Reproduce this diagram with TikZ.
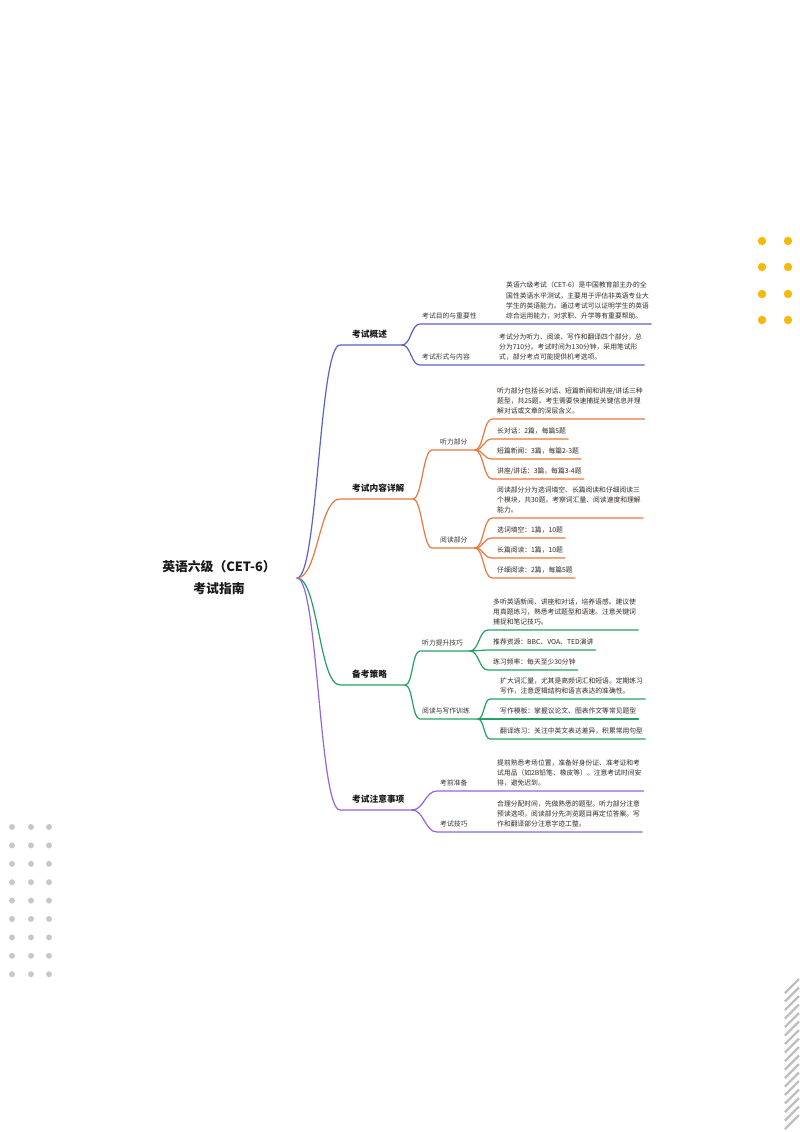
\documentclass[tikz,border=0pt]{standalone}
\usepackage{fontspec}
\setmainfont{Noto Sans CJK SC}
\definecolor{cblue}{RGB}{92,96,200}
\definecolor{corange}{RGB}{232,121,61}
\definecolor{cgreen}{RGB}{38,160,100}
\definecolor{cpurple}{RGB}{150,100,220}
\definecolor{cyellow}{RGB}{245,185,10}
\definecolor{cdot}{RGB}{200,200,200}
\definecolor{chatch}{RGB}{190,190,190}
\definecolor{txtdark}{RGB}{25,25,25}
\definecolor{txtmid}{RGB}{55,55,55}
\definecolor{txtdet}{RGB}{52,44,38}
\tikzset{
  cb/.style={draw=cblue, line width=1.2pt, line cap=round},
  co/.style={draw=corange, line width=1.2pt, line cap=round},
  cg/.style={draw=cgreen, line width=1.2pt, line cap=round},
  cp/.style={draw=cpurple, line width=1.2pt, line cap=round},
  rootlbl/.style={font=\fontsize{12.8}{22}\selectfont\bfseries, text=txtdark, align=center, inner sep=0pt},
  lone/.style={font=\fontsize{8.7}{10}\selectfont\bfseries, text=txtdark, inner sep=0pt, anchor=base west},
  ltwo/.style={font=\fontsize{6.8}{9.8}\selectfont, text=txtmid, inner sep=0pt, anchor=base west},
  dtl/.style={font=\fontsize{6.8}{10.2}\selectfont, text=txtdet, align=left, inner xsep=2pt, inner ysep=0pt, anchor=south west},
  ydot/.style={fill=cyellow, draw=none},
  gdot/.style={fill=cdot, draw=none},
  hatchline/.style={draw=chatch, line width=2.2pt},
}
\begin{document}
\begin{tikzpicture}[x=1pt,y=-1pt]
\path[fill=white] (0,0) rectangle (800,1132);
\useasboundingbox (0,0) rectangle (800,1132);

% decorations
\foreach \yy in {241,267,294,320}{
  \foreach \xx in {762,788}{ \fill[ydot] (\xx,\yy) circle (4.2); }
}
\foreach \k in {0,...,8}{
  \foreach \xx in {12,31,49}{ \fill[gdot] (\xx,827+18.4*\k) circle (3); }
}
\begin{scope}
\clip (770,970) rectangle (800,1132);
\foreach \k in {0,...,16}{
  \draw[hatchline] (785,993+8.5*\k) -- (799,979+8.5*\k);
}
\end{scope}

% root
\node[rootlbl] (root) at (219,578) {英语六级（CET-6）\\考试指南};
\coordinate (rp) at (297,578);

% ===== blue: 考试概述
\coordinate (b0) at (340,345); \coordinate (b1) at (402,345);
\node[lone] (bt) at (352,337.5) {考试概述};
\coordinate (b2) at (420,324); \coordinate (b3) at (420,365);
\node[ltwo] (bl1) at (422,318.5) {考试目的与重要性};
\node[dtl] (bd1) at (504,319.5) {英语六级考试（CET-6）是中国教育部主办的全\\国性英语水平测试，主要用于评估非英语专业大\\学生的英语能力。通过考试可以证明学生的英语\\综合运用能力，对求职、升学等有重要帮助。};
\node[ltwo] (bl2) at (422,359.5) {考试形式与内容};
\node[dtl] (bd2) at (497,360.5) {考试分为听力、阅读、写作和翻译四个部分，总\\分为710分。考试时间为130分钟，采用笔试形\\式，部分考点可能提供机考选项。};
\draw[cb] (rp) .. controls +(21,0) and +(-21,0) .. (b0) -- (b1);
\draw[cb] (b1) .. controls +(9,0) and +(-9,0) .. (b2) -- (b2 -| bd1.east);
\draw[cb] (b1) .. controls +(9,0) and +(-9,0) .. (b3) -- (b3 -| bd2.east);

% ===== orange: 考试内容详解
\coordinate (o0) at (340,499); \coordinate (o1) at (413,499);
\node[lone] (ot) at (352,491.5) {考试内容详解};
\coordinate (o2) at (432,450); \coordinate (o3) at (475,450);
\node[ltwo] (ol) at (440,444.5) {听力部分};
\coordinate (o4) at (432,548); \coordinate (o5) at (475,548);
\node[ltwo] (or) at (440,542.5) {阅读部分};
\draw[co] (rp) .. controls +(21,0) and +(-21,0) .. (o0) -- (o1);
\draw[co] (o1) .. controls +(9,0) and +(-9,0) .. (o2) -- (o3);
\draw[co] (o1) .. controls +(9,0) and +(-9,0) .. (o4) -- (o5);
% listening leaves
\coordinate (o6) at (492,419); \coordinate (o7) at (492,439);
\coordinate (o8) at (492,459); \coordinate (o9) at (492,479);
\node[dtl] (ol1) at (495,414.5) {听力部分包括长对话、短篇新闻和讲座/讲话三种\\题型，共25题。考生需要快速捕捉关键信息并理\\解对话或文章的深层含义。};
\node[dtl] (ol2) at (495,434.5) {长对话：2篇，每篇5题};
\node[dtl] (ol3) at (495,454.5) {短篇新闻：3篇，每篇2-3题};
\node[dtl] (ol4) at (495,474.5) {讲座/讲话：3篇，每篇3-4题};
\draw[co] (o3) .. controls +(8.5,0) and +(-8.5,0) .. (o6) -- (o6 -| ol1.east);
\draw[co] (o3) .. controls +(8.5,0) and +(-8.5,0) .. (o7) -- (o7 -| ol2.east);
\draw[co] (o3) .. controls +(8.5,0) and +(-8.5,0) .. (o8) -- (o8 -| ol3.east);
\draw[co] (o3) .. controls +(8.5,0) and +(-8.5,0) .. (o9) -- (o9 -| ol4.east);
% reading leaves
\coordinate (o10) at (492,518); \coordinate (o11) at (492,538);
\coordinate (o12) at (492,558); \coordinate (o13) at (492,578);
\node[dtl] (or1) at (495,513.5) {阅读部分分为选词填空、长篇阅读和仔细阅读三\\个模块，共30题。考察词汇量、阅读速度和理解\\能力。};
\node[dtl] (or2) at (495,533.5) {选词填空：1篇，10题};
\node[dtl] (or3) at (495,553.5) {长篇阅读：1篇，10题};
\node[dtl] (or4) at (495,573.5) {仔细阅读：2篇，每篇5题};
\draw[co] (o5) .. controls +(8.5,0) and +(-8.5,0) .. (o10) -- (o10 -| or1.east);
\draw[co] (o5) .. controls +(8.5,0) and +(-8.5,0) .. (o11) -- (o11 -| or2.east);
\draw[co] (o5) .. controls +(8.5,0) and +(-8.5,0) .. (o12) -- (o12 -| or3.east);
\draw[co] (o5) .. controls +(8.5,0) and +(-8.5,0) .. (o13) -- (o13 -| or4.east);

% ===== green: 备考策略
\coordinate (g0) at (340,685); \coordinate (g1) at (405,685);
\node[lone] (gt) at (352,677.5) {备考策略};
\coordinate (g2) at (420,651); \coordinate (g3) at (470,651);
\node[ltwo] (gl) at (422,645.5) {听力提升技巧};
\coordinate (g4) at (420,719); \coordinate (g5) at (478,719);
\node[ltwo] (gr) at (422,713.5) {阅读与写作训练};
\draw[cg] (rp) .. controls +(21,0) and +(-21,0) .. (g0) -- (g1);
\draw[cg] (g1) .. controls +(8,0) and +(-8,0) .. (g2) -- (g3);
\draw[cg] (g1) .. controls +(8,0) and +(-8,0) .. (g4) -- (g5);
\coordinate (g6) at (488,630); \coordinate (g7) at (488,650); \coordinate (g8) at (488,670);
\node[dtl] (gl1) at (491,625.5) {多听英语新闻、讲座和对话，培养语感。建议使\\用真题练习，熟悉考试题型和语速。注意关键词\\捕捉和笔记技巧。};
\node[dtl] (gl2) at (491,645.5) {推荐资源：BBC、VOA、TED演讲};
\node[dtl] (gl3) at (491,665.5) {练习频率：每天至少30分钟};
\draw[cg] (g3) .. controls +(9,0) and +(-9,0) .. (g6) -- (g6 -| gl1.east);
\draw[cg] (g3) .. controls +(9,0) and +(-9,0) .. (g7) -- (g7 -| gl2.east);
\draw[cg] (g3) .. controls +(9,0) and +(-9,0) .. (g8) -- (g8 -| gl3.east);
\coordinate (g9) at (490,699); \coordinate (g10) at (490,719); \coordinate (g11) at (490,739);
\node[dtl] (gr1) at (498,694.5) {扩大词汇量，尤其是高频词汇和短语。定期练习\\写作，注意逻辑结构和语言表达的准确性。};
\node[dtl] (gr2) at (498,714.5) {写作模板：掌握议论文、图表作文等常见题型};
\node[dtl] (gr3) at (498,734.5) {翻译练习：关注中英文表达差异，积累常用句型};
\draw[cg] (g5) .. controls +(6,0) and +(-6,0) .. (g9) -- (g9 -| gr1.east);
\draw[cg] (g5) -- (g10) -- (g10 -| gr2.east);
\draw[cg] (g5) .. controls +(6,0) and +(-6,0) .. (g11) -- (g11 -| gr3.east);

% ===== purple: 考试注意事项
\coordinate (p0) at (340,810); \coordinate (p1) at (412,810);
\node[lone] (pt) at (352,802.5) {考试注意事项};
\coordinate (p2) at (437,791); \coordinate (p3) at (437,832);
\node[ltwo] (pl1) at (440,785.5) {考前准备};
\node[dtl] (pd1) at (495,786.5) {提前熟悉考场位置，准备好身份证、准考证和考\\试用品（如2B铅笔、橡皮等）。注意考试时间安\\排，避免迟到。};
\node[ltwo] (pl2) at (440,826.5) {考试技巧};
\node[dtl] (pd2) at (495,827.5) {合理分配时间，先做熟悉的题型。听力部分注意\\预读选项，阅读部分先浏览题目再定位答案。写\\作和翻译部分注意字迹工整。};
\draw[cp] (rp) .. controls +(21,0) and +(-21,0) .. (p0) -- (p1);
\draw[cp] (p1) .. controls +(12,0) and +(-12,0) .. (p2) -- (p2 -| pd1.east);
\draw[cp] (p1) .. controls +(12,0) and +(-12,0) .. (p3) -- (p3 -| pd2.east);
\end{tikzpicture}
\end{document}
